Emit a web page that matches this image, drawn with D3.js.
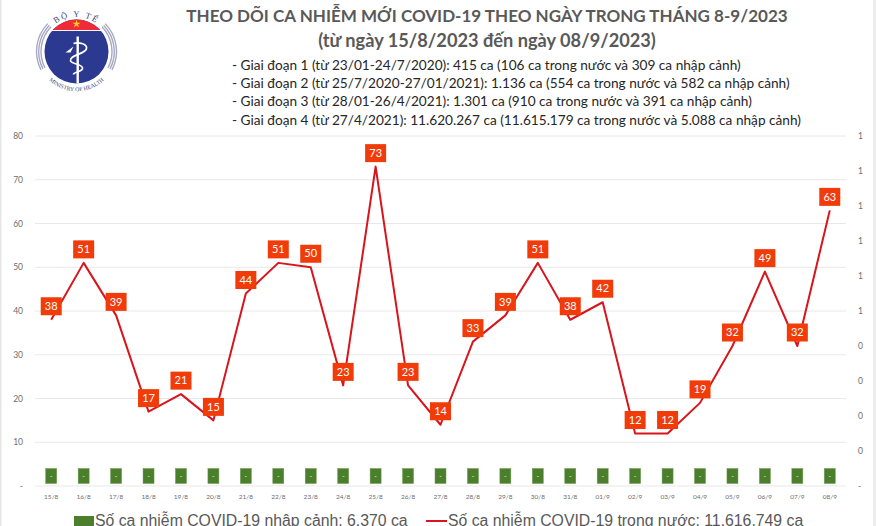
<!DOCTYPE html>
<html>
<head>
<meta charset="utf-8">
<script src="https://cdn.jsdelivr.net/npm/d3@7/dist/d3.min.js"></script>
<style>
  html, body { margin: 0; padding: 0; background: #fff; overflow: hidden; }
  svg { display: block; }
</style>
</head>
<body>
<div id="chart"></div>
<script>
const days = ["15/8","16/8","17/8","18/8","19/8","20/8","21/8","22/8","23/8","24/8","25/8","26/8","27/8","28/8","29/8","30/8","31/8","01/9","02/9","03/9","04/9","05/9","06/9","07/9","08/9"];
const domestic = [38,51,39,17,21,15,44,51,50,23,73,23,14,33,39,51,38,42,12,12,19,32,49,32,63];
const imported = [0,0,0,0,0,0,0,0,0,0,0,0,0,0,0,0,0,0,0,0,0,0,0,0,0];
const leftTicks = [0,10,20,30,40,50,60,70,80];
const rightTicks = [0,0.1,0.2,0.3,0.4,0.5,0.6,0.7,0.8,0.9,1];
const titleLines = ["THEO DÕI CA NHIỄM MỚI COVID-19 THEO NGÀY TRONG THÁNG 8-9/2023", "(từ ngày 15/8/2023 đến ngày 08/9/2023)"];
const stageLines = [
  "- Giai đoạn 1 (từ 23/01-24/7/2020): 415 ca (106 ca trong nước và 309 ca nhập cảnh)",
  "- Giai đoạn 2 (từ 25/7/2020-27/01/2021): 1.136 ca (554 ca trong nước và 582 ca nhập cảnh)",
  "- Giai đoạn 3 (từ 28/01-26/4/2021): 1.301 ca (910 ca trong nước và 391 ca nhập cảnh)",
  "- Giai đoạn 4 (từ 27/4/2021): 11.620.267 ca (11.615.179 ca trong nước và 5.088 ca nhập cảnh)"
];
const legendImported = "Số ca nhiễm COVID-19 nhập cảnh: 6.370 ca";
const legendDomestic = "Số ca nhiễm COVID-19 trong nước: 11.616.749 ca";

const width = 876, height = 526;
const margin = { top: 136, right: 30, bottom: 40, left: 35 };
const titleFont = "Lato, 'Noto Sans', sans-serif";

const svg = d3.select("#chart").append("svg")
  .attr("width", width)
  .attr("height", height);

svg.append("rect").attr("width", width).attr("height", height).attr("fill", "#fff");
// pale edges of the original slide
svg.append("rect").attr("x", 0).attr("width", 1.5).attr("height", height).attr("fill", "#e6e6e6");
svg.append("rect").attr("x", 873).attr("width", 3).attr("height", height).attr("fill", "#ececec");

const x = d3.scaleBand().domain(days).range([margin.left, width - margin.right]);
const y = d3.scaleLinear().domain([0, 80]).range([height - margin.bottom, margin.top]);
const y2 = d3.scaleLinear().domain([0, 1]).range([height - margin.bottom, margin.top]);

// gridlines
svg.append("g").selectAll("line").data(leftTicks).join("line")
  .attr("x1", margin.left).attr("x2", width - margin.right)
  .attr("y1", d => y(d)).attr("y2", d => y(d))
  .attr("stroke", "#e8e8e8").attr("stroke-width", 1);

// axes, tick labels only
const leftAxis = d3.axisLeft(y).tickValues(leftTicks).tickSize(0)
  .tickFormat(d => d === 0 ? "-" : d);
const rightAxis = d3.axisRight(y2).tickValues(rightTicks).tickSize(0)
  .tickFormat(d => d === 0 ? "-" : d3.format(".0f")(d));
const bottomAxis = d3.axisBottom(x).tickSize(0);

const gLeft = svg.append("g").attr("transform", `translate(${margin.left - 9},0)`).call(leftAxis);
const gRight = svg.append("g").attr("transform", `translate(${width - margin.right + 9},0)`).call(rightAxis);
const gBottom = svg.append("g").attr("transform", `translate(0,${height - margin.bottom + 5})`).call(bottomAxis);
[gLeft, gRight, gBottom].forEach(g => {
  g.select(".domain").remove();
  g.selectAll("text").attr("fill", "#6e6e6e").attr("font-family", "Lato, sans-serif");
});
gLeft.selectAll("text").attr("font-size", 8.5);
gRight.selectAll("text").attr("font-size", 8.5);
gBottom.selectAll("text").attr("font-size", 6.5);

// imported cases: value labels sit as green boxes above the zero line
const green = svg.append("g").selectAll("g").data(imported).join("g")
  .attr("transform", (d, i) => `translate(${x(days[i]) + x.bandwidth() / 2},${y(d)})`);
green.append("rect")
  .attr("x", -5.5).attr("y", -17.5).attr("width", 11).attr("height", 15)
  .attr("fill", "#4b7f2c").attr("stroke", "#6d9a50").attr("stroke-width", 0.5);
green.append("text")
  .attr("y", -7.5).attr("text-anchor", "middle")
  .attr("font-size", 7).attr("font-family", "Lato, sans-serif").attr("fill", "#dfeed6")
  .text("-");

// domestic cases line
const line = d3.line()
  .x((d, i) => x(days[i]) + x.bandwidth() / 2)
  .y(d => y(d));
svg.append("path").datum(domestic)
  .attr("d", line)
  .attr("fill", "none")
  .attr("stroke", "#d8141c")
  .attr("stroke-width", 2)
  .attr("stroke-linejoin", "round");

// value labels, plain boxes above each point
const labels = svg.append("g").selectAll("g").data(domestic).join("g")
  .attr("transform", (d, i) => `translate(${x(days[i]) + x.bandwidth() / 2},${y(d)})`);
labels.append("rect")
  .attr("x", -10.5).attr("y", -22.5).attr("width", 21).attr("height", 18)
  .attr("fill", "#f13c0a");
labels.append("text")
  .attr("y", -9.8).attr("text-anchor", "middle")
  .attr("font-size", 11).attr("font-family", "Lato, sans-serif").attr("fill", "#fff")
  .text(d => d);

// titles
svg.append("g").selectAll("text").data(titleLines).join("text")
  .attr("x", 487).attr("y", (d, i) => 21.5 + i * 25)
  .attr("text-anchor", "middle")
  .attr("font-family", titleFont).attr("font-weight", 700)
  .attr("font-size", (d, i) => i ? 18.2 : 17.05)
  .attr("fill", "#595959")
  .text(d => d);

svg.append("g").selectAll("text").data(stageLines).join("text")
  .attr("x", 232).attr("y", (d, i) => 69.5 + i * 18.4)
  .attr("font-family", titleFont).attr("font-size", 13.65)
  .attr("fill", "#262626")
  .text(d => d);

// legend, cut by the lower edge as in the original
svg.append("rect").attr("x", 74).attr("y", 516).attr("width", 20).attr("height", 10).attr("fill", "#4b7f2c");
svg.append("text").attr("x", 95).attr("y", 526)
  .attr("font-family", "'Liberation Sans', Arial, sans-serif").attr("font-size", 15.8).attr("fill", "#595959")
  .text(legendImported);
svg.append("line").attr("x1", 426).attr("x2", 447).attr("y1", 521).attr("y2", 521)
  .attr("stroke", "#d8141c").attr("stroke-width", 2);
svg.append("text").attr("x", 448).attr("y", 526)
  .attr("font-family", "'Liberation Sans', Arial, sans-serif").attr("font-size", 15.8).attr("fill", "#595959")
  .text(legendDomestic);

// ministry emblem
const logo = svg.append("g").attr("transform", "translate(76.5,51.5)");
const ring = d3.arc();
[[-2.05, -0.8], [0.8, 2.05]].forEach(([a0, a1]) => {
  [35.5, 37.8, 40].forEach(r => {
    logo.append("path")
      .attr("d", ring({ innerRadius: r - 0.7, outerRadius: r + 0.7, startAngle: a0, endAngle: a1 }))
      .attr("fill", "#a7a9c4");
  });
});
logo.append("circle").attr("r", 32).attr("fill", "#2b3990");
logo.append("clipPath").attr("id", "logoTop").append("rect")
  .attr("x", -34).attr("y", -34).attr("width", 68).attr("height", 12.5);
logo.append("circle").attr("r", 32).attr("fill", "#ee2b36").attr("clip-path", "url(#logoTop)");
logo.append("line").attr("x1", -27).attr("x2", 27).attr("y1", -21).attr("y2", -21)
  .attr("stroke", "#fff").attr("stroke-width", 1.2);
logo.append("path")
  .attr("d", d3.symbol(d3.symbolStar, 20)())
  .attr("transform", "translate(0,-27.5)")
  .attr("fill", "#ffd21e");
// staff and snake
logo.append("rect").attr("x", 0).attr("y", -15).attr("width", 2.4).attr("height", 47).attr("fill", "#fff");
logo.append("path")
  .attr("d", "M-3,-8C3,-10 11,-7 10,-3C9,3 -7,3 -6,9C-6,13 7,12 6,17C5,21 -3,20 -3,23")
  .attr("fill", "none").attr("stroke", "#fff").attr("stroke-width", 1.7);
logo.append("path").attr("d", "M-11,1L-3,-5L-6,1Z").attr("fill", "#fff");

const defs = svg.append("defs");
defs.append("path").attr("id", "logoArcTop").attr("d", "M-30,-17.3A34.6,34.6 0 0 1 30,-17.3");
defs.append("path").attr("id", "logoArcBottom").attr("d", "M-32,23.5A39.7,39.7 0 0 0 32,23.5");
logo.append("text")
  .attr("font-family", "'Liberation Serif', serif").attr("font-size", 8.5).attr("fill", "#3a3f7a")
  .attr("letter-spacing", 1.8)
  .append("textPath").attr("href", "#logoArcTop").attr("startOffset", "50%").attr("text-anchor", "middle")
  .text("BỘ Y TẾ");
logo.append("text")
  .attr("font-family", "'Liberation Serif', serif").attr("font-size", 5.8).attr("fill", "#3a3f7a")
  .append("textPath").attr("href", "#logoArcBottom").attr("startOffset", "50%").attr("text-anchor", "middle")
  .text("MINISTRY OF HEALTH");
</script>
</body>
</html>
